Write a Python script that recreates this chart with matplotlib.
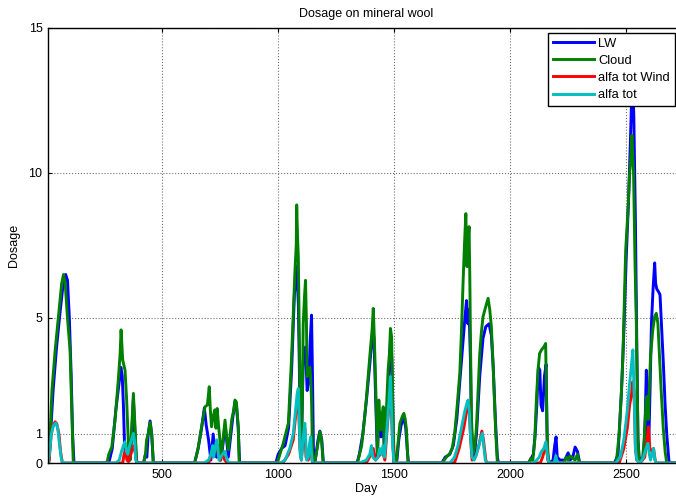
import matplotlib
matplotlib.use("Agg")
import matplotlib.pyplot as plt

plt.rcParams['font.family'] = ['Liberation Sans', 'DejaVu Sans']

# ---- data (day, value) ----
lw_days = [1, 10, 14, 30, 45, 60, 75, 84, 92, 100, 108, 114, 120,
           270, 285, 300, 315, 322, 328, 333, 338, 342, 350, 360, 368, 376, 382, 388, 392,
           420, 428, 434, 440, 448, 455, 462,
           640, 655, 670, 682, 690, 700, 710, 720, 728, 735, 745, 752, 760, 771, 778, 785, 795, 805, 814, 820, 828, 834,
           990, 1000, 1015, 1030, 1045, 1058, 1070, 1080, 1087, 1094, 1100, 1108, 1118, 1125, 1132, 1138, 1144, 1148, 1152, 1160, 1172, 1180, 1188, 1195,
           1340, 1350, 1365, 1381, 1395, 1408, 1413, 1421, 1428, 1434, 1443, 1453, 1458, 1468, 1476, 1484, 1490, 1496, 1500, 1512, 1520, 1530, 1542, 1550, 1558, 1562,
           1705, 1720, 1740, 1755, 1770, 1783, 1795, 1805, 1812, 1818, 1823, 1829, 1833, 1838, 1845, 1855, 1869, 1883, 1895, 1909, 1919, 1927, 1937, 1945, 1950,
           2080, 2100, 2108, 2115, 2122, 2128, 2133, 2140, 2148, 2155, 2160, 2165, 2170, 2185, 2192, 2198, 2203, 2215, 2235, 2250, 2258, 2270, 2280, 2290, 2300,
           2450, 2465, 2480, 2490, 2500, 2510, 2518, 2527, 2533, 2540, 2546, 2551, 2556, 2565, 2575, 2582, 2587, 2592, 2597, 2603, 2609, 2616, 2623, 2627, 2632, 2640, 2646, 2652, 2660, 2668, 2675, 2684, 2688, 2740]
lw_vals = [0, 0, 0.3, 2.5, 4.0, 5.2, 6.3, 6.5, 6.3, 5.0, 3.0, 1.0, 0,
           0, 0.5, 1.8, 2.8, 3.3, 3.0, 2.0, 0.6, 0.3, 0.2, 0.1, 0.8, 2.2, 1.2, 0.2, 0,
           0, 0.3, 0.2, 1.0, 1.45, 1.0, 0,
           0, 0.5, 1.2, 1.9, 1.3, 0.8, 0.1, 1.0, 0.3, 0.2, 0.6, 0.1, 0.5, 1.3, 0.8, 0.2, 0.9, 1.6, 2.1, 2.0, 1.2, 0,
           0, 0.3, 0.5, 0.6, 1.2, 3.2, 5.8, 6.8, 5.5, 2.0, 0.5, 3.5, 4.0, 2.5, 2.8, 4.2, 5.1, 3.0, 0.5, 0.1, 0.8, 1.1, 0.8, 0,
           0, 0.3, 1.0, 2.2, 3.4, 4.6, 4.3, 2.0, 0.2, 1.8, 0.9, 1.6, 0.3, 1.5, 2.8, 4.2, 3.6, 1.0, 0, 0.1, 0.8, 1.3, 1.6, 1.2, 0.3, 0,
           0, 0.2, 0.3, 0.6, 1.5, 2.8, 4.0, 5.0, 5.6, 4.8, 5.3, 3.5, 1.2, 0.3, 0.2, 1.0, 3.0, 4.3, 4.7, 4.8, 4.4, 3.3, 1.4, 0.2, 0,
           0, 0.3, 1.0, 2.0, 3.3, 3.2, 2.0, 1.8, 3.0, 3.4, 0.5, 0.1, 0, 0.1, 0.6, 0.9, 0.2, 0.1, 0.1, 0.35, 0.1, 0.2, 0.55, 0.4, 0,
           0, 0.3, 2.5, 4.5, 7.0, 9.0, 11.0, 13.5, 12.0, 8.3, 4.0, 0.8, 0.2, 0.1, 0.2, 1.5, 3.2, 1.0, 0.5, 2.5, 4.8, 6.0, 6.9, 6.2, 6.0, 5.9, 5.8, 4.8, 3.5, 2.0, 1.0, 0.1, 0, 0]

cloud_days = [1, 10, 13, 25, 39, 55, 67, 75, 82, 92, 103, 110, 117,
              262, 270, 283, 297, 311, 319, 323, 330, 340, 347, 355, 362, 369, 376, 383, 390,
              420, 428, 433, 440, 448, 455, 462,
              640, 655, 670, 685, 695, 703, 708, 713, 720, 727, 732, 737, 743, 749, 752, 760, 771, 778, 785, 792, 800, 808, 814, 820, 828, 832,
              992, 1000, 1022, 1044, 1058, 1072, 1078, 1080, 1084, 1087, 1091, 1094, 1101, 1105, 1108, 1114, 1118, 1120, 1122, 1125, 1130, 1137, 1140, 1144, 1148, 1152, 1160, 1170, 1180, 1187, 1194,
              1340, 1345, 1360, 1372, 1381, 1395, 1405, 1410, 1415, 1421, 1428, 1434, 1438, 1443, 1448, 1453, 1458, 1465, 1474, 1480, 1484, 1489, 1494, 1500, 1510, 1518, 1525, 1535, 1542, 1548, 1553, 1560,
              1705, 1711, 1725, 1740, 1750, 1761, 1772, 1783, 1790, 1797, 1803, 1809, 1814, 1818, 1823, 1826, 1829, 1833, 1840, 1848, 1855, 1862, 1869, 1876, 1883, 1895, 1905, 1912, 1919, 1927, 1933, 1938, 1945,
              2080, 2088, 2098, 2106, 2113, 2120, 2127, 2135, 2145, 2153, 2159, 2163, 2168, 2230, 2243, 2250, 2258, 2280, 2290, 2298,
              2450, 2458, 2470, 2480, 2486, 2492, 2498, 2508, 2515, 2520, 2525, 2532, 2538, 2544, 2551, 2556, 2570, 2578, 2585, 2590, 2595, 2605, 2615, 2623, 2630, 2637, 2645, 2651, 2660, 2668, 2675, 2740]
cloud_vals = [0, 0, 0.1, 2.5, 3.9, 5.2, 6.2, 6.5, 6.2, 5.0, 3.9, 2.0, 0,
              0, 0.3, 0.56, 1.48, 2.86, 3.78, 4.59, 3.55, 3.2, 2.17, 0.56, 0.1, 1.25, 2.4, 1.25, 0,
              0, 0.3, 0.8, 1.0, 1.4, 1.0, 0,
              0, 0.5, 1.25, 1.94, 2.0, 2.63, 1.8, 1.25, 1.6, 1.83, 1.2, 1.88, 1.3, 0.8, 0.1, 0.6, 1.48, 0.9, 0.45, 0.9, 1.5, 1.8, 2.17, 2.1, 1.25, 0,
              0, 0.1, 0.68, 1.37, 3.67, 6.54, 7.5, 8.9, 7.7, 7.1, 4.5, 2.5, 0.68, 2.5, 4.8, 5.8, 6.3, 5.5, 4.8, 2.98, 3.2, 3.3, 3.0, 2.17, 0.45, 0, 0.1, 0.6, 1.08, 0.8, 0,
              0, 0.1, 0.6, 1.5, 2.29, 3.67, 4.6, 5.33, 4.2, 2.5, 0.3, 2.17, 1.5, 1.14, 1.6, 1.94, 0.4, 1.5, 3.2, 3.8, 4.64, 4.36, 2.0, 0, 0.1, 0.8, 1.37, 1.6, 1.71, 1.5, 1.14, 0,
              0, 0.05, 0.2, 0.33, 0.5, 1.02, 2.0, 3.1, 4.5, 6.2, 7.5, 8.6, 6.77, 7.6, 8.15, 6.5, 4.24, 1.6, 0.33, 0.6, 1.25, 2.5, 3.78, 4.5, 5.04, 5.4, 5.68, 5.3, 4.7, 3.32, 2.0, 1.02, 0,
              0, 0.15, 0.1, 0.8, 2.17, 3.2, 3.78, 3.9, 4.0, 4.12, 1.1, 0.3, 0, 0, 0.2, 0.1, 0.25, 0.1, 0.3, 0,
              0, 0.05, 1.0, 2.5, 3.67, 5.5, 7.34, 8.7, 9.99, 10.5, 11.3, 10.0, 7.0, 4.8, 0.8, 0.1, 0.1, 0.8, 2.0, 2.3, 1.5, 3.67, 4.6, 5.05, 5.16, 4.8, 3.5, 2.5, 1.2, 0.4, 0, 0]

wind_days = [1, 10, 14, 22, 30, 39, 46, 55, 62, 70,
             330, 336, 342, 348, 355, 365, 372, 378, 385, 390,
             700, 715, 725, 735, 742, 748, 760, 770, 780,
             1020, 1045, 1065, 1080, 1087, 1094, 1100, 1110, 1115, 1120, 1130, 1140, 1146, 1150,
             1380, 1400, 1410, 1420, 1440, 1450, 1460, 1470, 1478, 1484, 1492, 1500,
             1760, 1780, 1800, 1815, 1822, 1830, 1836, 1850, 1865, 1878, 1885, 1895, 1900,
             2130, 2140, 2150, 2156, 2162, 2170,
             2470, 2490, 2505, 2515, 2522, 2528, 2534, 2540, 2546, 2560, 2580, 2590, 2596, 2602, 2610, 2618, 2625, 2630, 2740]
wind_vals = [0, 0, 0.2, 1.0, 1.3, 1.42, 1.35, 1.0, 0.4, 0,
             0, 0.3, 0.45, 0.1, 0.05, 0.3, 0.5, 0.6, 0.3, 0,
             0, 0.3, 0.5, 0.6, 0.3, 0.1, 0.3, 0.1, 0,
             0, 0.3, 0.8, 2.0, 2.3, 0.5, 0.1, 1.0, 1.2, 0.2, 0.1, 0.7, 0.1, 0,
             0, 0.3, 0.5, 0.1, 0.3, 0.4, 0.1, 1.2, 2.0, 2.7, 1.0, 0,
             0, 0.5, 1.2, 1.9, 2.1, 0.8, 0.1, 0.2, 0.6, 1.1, 0.8, 0.1, 0,
             0, 0.2, 0.5, 0.7, 0.1, 0,
             0, 0.5, 1.2, 2.0, 2.3, 2.8, 2.5, 0.5, 0.1, 0, 0.2, 0.8, 1.25, 0.5, 0.4, 0.5, 0.1, 0, 0]

alfa_days = [1, 8, 14, 22, 32, 42, 50, 58, 66, 74,
             300, 315, 325, 333, 340, 346, 352, 360, 368, 376, 382, 386, 392,
             680, 700, 710, 718, 722, 728, 735, 740, 745, 760, 770, 780, 790,
             1010, 1030, 1050, 1065, 1075, 1082, 1087, 1091, 1095, 1100, 1108, 1115, 1119, 1123, 1130, 1136, 1140, 1144, 1148,
             1350, 1380, 1395, 1402, 1408, 1420, 1430, 1438, 1444, 1452, 1458, 1465, 1472, 1478, 1484, 1488, 1494, 1500,
             1740, 1760, 1775, 1790, 1805, 1815, 1819, 1824, 1830, 1836, 1845, 1855, 1865, 1875, 1880, 1886, 1893, 1900,
             2100, 2115, 2125, 2135, 2145, 2154, 2160, 2166, 2190, 2197, 2203,
             2455, 2475, 2490, 2505, 2515, 2522, 2529, 2534, 2540, 2546, 2560, 2575, 2585, 2594, 2600, 2605, 2612, 2618, 2624, 2630, 2740]
alfa_vals = [0, 0, 0.3, 1.0, 1.3, 1.38, 1.2, 0.6, 0.1, 0,
             0, 0.1, 0.4, 0.6, 0.73, 0.4, 0.3, 0.6, 0.8, 1.02, 0.7, 0.1, 0,
             0, 0.1, 0.3, 0.6, 0.2, 0.5, 0.8, 0.5, 0.1, 0.3, 0.4, 0.1, 0,
             0, 0.1, 0.5, 1.0, 1.8, 2.4, 2.57, 1.5, 0.3, 0.1, 0.9, 1.37, 0.8, 0.1, 0.2, 0.7, 0.9, 0.3, 0,
             0, 0.1, 0.3, 0.6, 0.2, 0.1, 0.2, 0.5, 0.3, 0.6, 0.2, 0.8, 1.5, 2.2, 2.98, 2.0, 0.5, 0,
             0, 0.2, 0.6, 1.2, 1.8, 2.1, 2.17, 1.8, 0.8, 0.2, 0.1, 0.3, 0.6, 0.9, 1.02, 0.6, 0.1, 0,
             0, 0.1, 0.2, 0.4, 0.5, 0.73, 0.3, 0, 0, 0.25, 0,
             0, 0.2, 0.8, 1.8, 2.75, 3.3, 3.9, 2.5, 0.5, 0.1, 0, 0.2, 0.5, 0.68, 0.3, 0.1, 0.3, 0.5, 0.1, 0, 0]

series = [("LW", lw_days, lw_vals, "#0000FF"),
          ("Cloud", cloud_days, cloud_vals, "#008000"),
          ("alfa tot Wind", wind_days, wind_vals, "#FF0000"),
          ("alfa tot", alfa_days, alfa_vals, "#00BFBF")]

x_ticks = [500, 1000, 1500, 2000, 2500]
y_ticks = [0, 1, 5, 10, 15]

W, H = 676, 503
fig = plt.figure(figsize=(W / 100, H / 100), dpi=100)
x0, x1 = 8, 2750
px_per_day = 0.232
left_px, top_px, bottom_px = 48, 28, 463
width_px = (x1 - x0) * px_per_day
ax = fig.add_axes([left_px / W, (H - bottom_px) / H, width_px / W, (bottom_px - top_px) / H])

for name, d, v, c in series:
    ax.plot(d, v, color=c, lw=2.1, label=name, solid_joinstyle='round')

ax.set_xlim(x0, x1)
ax.set_ylim(0, 15)
ax.set_xticks(x_ticks)
ax.set_yticks(y_ticks)
ax.tick_params(direction='in', length=3, labelsize=9, top=True, right=True, pad=4)
ax.grid(True, linestyle=':', color='0.45', lw=0.8)
for s in ax.spines.values():
    s.set_linewidth(1.0)
ax.set_title("Dosage on mineral wool", fontsize=9, pad=8)
ax.set_xlabel("Day", fontsize=9, labelpad=2)
ax.set_ylabel("Dosage", fontsize=9, labelpad=6)

leg = fig.legend(loc='upper left', bbox_to_anchor=(548 / W, 1 - 33 / H), fontsize=9.3,
                 frameon=True, fancybox=False, edgecolor='black', framealpha=1,
                 handlelength=3.2, handletextpad=0.35, borderpad=0.35, labelspacing=0.4,
                 borderaxespad=0)
leg.get_frame().set_linewidth(1.0)

fig.savefig("out.png", dpi=100)
